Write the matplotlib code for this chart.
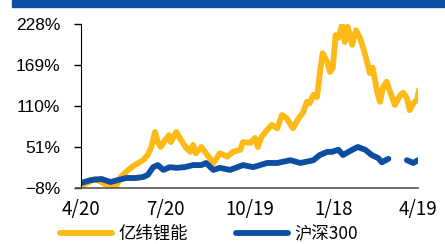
import numpy as np
import pandas as pd
import matplotlib
matplotlib.use('Agg')
import matplotlib.pyplot as plt
from matplotlib.patches import Rectangle
import matplotlib.dates as mdates

plt.rcParams['font.family'] = ['Liberation Sans', 'Noto Sans CJK SC', 'DejaVu Sans']
plt.rcParams['axes.unicode_minus'] = True

# 数据: 自 2020-04-20 起的天数, 累计涨幅(%)
start = pd.Timestamp('2020-04-20')

yw_days = [0, 15, 22, 31, 38, 43, 51, 58, 67, 72, 76, 80, 83, 86, 91, 95, 97, 103,
           108, 113, 118, 121, 124, 130, 135, 143, 150, 158, 164, 172, 175, 183, 188,
           191, 195, 201, 206, 212, 217, 222, 229, 234, 240, 244, 247, 251, 255, 258,
           261, 266, 269, 272, 275, 278, 282, 285, 288, 293, 294, 297, 301, 305, 309,
           312, 315, 320, 323, 326, 330, 334, 339, 345, 348, 352, 355, 359, 363, 365]
yw_pct = [-5, 5, 0.6, -6.6, -5, 8, 18, 25, 32, 39.5, 51, 72.6, 58, 51, 61, 68, 58, 72.6,
          61, 51, 44, 54, 42, 51, 42, 28, 42, 37, 44, 47, 58, 57, 64,
          51, 65.5, 75.5, 82.7, 78, 97, 92.7, 78, 90, 101, 116, 114, 126, 123, 157.5,
          186, 173, 159, 165, 212, 208, 226.6, 202, 224, 198, 205, 219, 209, 193, 173,
          157.5, 165, 130, 116, 136, 145, 130, 111.4, 126, 129, 121.5, 104, 114, 119, 133]

hs_days = [0, 11, 22, 32, 40, 49, 59, 67, 72, 78, 83, 89, 96, 103, 112, 121, 130, 135,
           143, 150, 161, 175, 186, 201, 212, 226, 237, 251, 258, 266, 271, 278, 283,
           293, 299, 307, 314, 321, 325, 332, 340, 352, 359, 364]
hs_pct = [-0.8, 3.5, 5, 0.6, 3.5, 6.4, 6.4, 7.8, 10.7, 22, 25, 18, 22, 21, 22, 25, 25, 28,
          18, 21, 18, 25, 22, 28, 28, 32, 28, 32, 39.5, 44, 44, 47, 39.5,
          47, 51, 47, 39.5, 35, 29, 34, np.nan, 32, 28, 32]

y_ticks = [-8, 51, 110, 169, 228]
x_ticks = ['2020-04-20', '2020-07-20', '2020-10-19', '2021-01-18', '2021-04-19']
x_labels = ['4/20', '7/20', '10/19', '1/18', '4/19']

yellow = '#FDB915'
blue = '#0B4EA2'

yw_dates = start + pd.to_timedelta(yw_days, unit='D')
hs_dates = start + pd.to_timedelta(hs_days, unit='D')

fig = plt.figure(figsize=(4.45, 2.44), dpi=100)
ax = fig.add_axes([81 / 445, 1 - 188 / 244, 337 / 445, 164 / 244])

ax.plot(yw_dates, yw_pct, color=yellow, lw=4.2, label='亿纬锂能', solid_capstyle='round')
ax.plot(hs_dates, hs_pct, color=blue, lw=4.2, label='沪深300', solid_capstyle='round')

ax.set_ylim(-8, 228)
ax.set_xlim(pd.Timestamp('2020-04-20'), pd.Timestamp('2021-04-19'))
ax.set_yticks(y_ticks)
ax.set_yticklabels([f'{v}%'.replace('-', '\u2212') for v in y_ticks],
                   fontsize=12.5, family=['Liberation Sans', 'DejaVu Sans'])
ax.set_xticks(pd.to_datetime(x_ticks))
ax.set_xticklabels(x_labels, fontsize=13.5, family=['Noto Sans CJK SC', 'DejaVu Sans'])
ax.tick_params(axis='y', length=5, width=1, pad=10, colors='black')
ax.tick_params(axis='x', length=0, pad=8)

for s in ['top', 'right']:
    ax.spines[s].set_visible(False)
ax.spines['left'].set_color('black')
ax.spines['bottom'].set_color('#555555')
ax.spines['bottom'].set_linewidth(1.2)
ax.spines['bottom'].set_bounds(mdates.date2num(pd.Timestamp('2020-04-20')) - 5,
                               mdates.date2num(pd.Timestamp('2021-04-19')))
ax.spines['bottom'].set_clip_on(False)

# 顶部蓝色条
fig.patches.append(Rectangle((12 / 445, 1 - 7 / 244), 1 - 12 / 445, 7 / 244,
                             transform=fig.transFigure, color=blue, zorder=0))

fig.legend(loc='center left', bbox_to_anchor=(60 / 445, 1 - 234 / 244), ncol=2,
           frameon=False, borderpad=0, borderaxespad=0, handlelength=3.0,
           handletextpad=0.35, columnspacing=2.8,
           prop={'family': ['Noto Sans CJK SC', 'DejaVu Sans'], 'size': 12.5})

fig.savefig('out.png', dpi=100)
